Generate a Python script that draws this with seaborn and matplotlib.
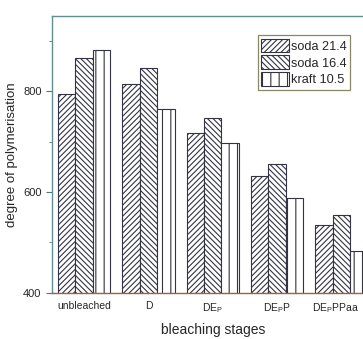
import pandas as pd
import matplotlib
matplotlib.use("Agg")
import matplotlib.pyplot as plt
import matplotlib.transforms as mtransforms
import seaborn as sns
from matplotlib.ticker import MultipleLocator

# Data
stages = ["unbleached", "D", "DE$_P$", "DE$_P$P", "DE$_P$PPaa"]
pulps = ["soda 21.4", "soda 16.4", "kraft 10.5"]
soda_214 = [795, 815, 717, 631, 535]
soda_164 = [867, 846, 747, 656, 555]
kraft_105 = [882, 766, 697, 589, 482]

hatches = ["//////", "\\\\\\\\\\\\", "||"]


def build_frame():
    rows = []
    for values, pulp in zip([soda_214, soda_164, kraft_105], pulps):
        for stage, v in zip(stages, values):
            rows.append({"stage": stage, "pulp": pulp, "dp": v})
    return pd.DataFrame(rows)


def plot_dp():
    sns.set_style("ticks")
    plt.rcParams["font.family"] = ["Liberation Sans", "DejaVu Sans"]
    plt.rcParams["mathtext.default"] = "regular"
    plt.rcParams["hatch.linewidth"] = 0.8
    plt.rcParams["hatch.color"] = "#5a4a6a"

    df = build_frame()
    fig = plt.figure(figsize=(3.63, 3.39), dpi=100)
    # axes runs past the right edge like in the reference
    ax = fig.add_axes([0.1433, 0.1366, 0.8857, 0.8162])

    sns.barplot(data=df, x="stage", y="dp", hue="pulp", order=stages,
                hue_order=pulps, width=0.81, palette=["white"] * 3,
                edgecolor="#333344", linewidth=0.8, ax=ax, legend=False)

    for cont, h in zip(ax.containers, hatches):
        for bar in cont:
            bar.set_hatch(h)

    # legend with hatched boxes
    handles = [plt.Rectangle((0, 0), 1, 1, facecolor="white", edgecolor="#333344",
                             hatch=h, linewidth=0.8) for h in hatches]
    leg = ax.legend(handles, pulps, loc="upper left", bbox_to_anchor=(0.64, 0.93),
                    fontsize=9.2, frameon=True, fancybox=False, borderpad=0.25,
                    labelspacing=0.2, handlelength=2.2, handleheight=1.3,
                    handletextpad=0.15, borderaxespad=0)
    leg.get_frame().set_edgecolor("#6b6b40")
    leg.get_frame().set_linewidth(0.9)

    ax.set_ylim(400, 950)
    ax.set_xlim(-0.5, 4.5)
    ax.yaxis.set_major_locator(MultipleLocator(200))
    ax.yaxis.set_minor_locator(MultipleLocator(100))
    ax.tick_params(axis="y", which="major", length=4, labelsize=8, color="#557777")
    ax.tick_params(axis="y", which="minor", length=2.5, color="#557777")
    ax.tick_params(axis="x", length=0, labelsize=7.5, pad=6)

    # last stage label sits at the clipped edge, nudge it left a few pixels
    last = ax.get_xticklabels()[-1]
    shift = mtransforms.ScaledTranslation(-4 / 72, 0, fig.dpi_scale_trans)
    last.set_transform(last.get_transform() + shift)

    for side in ["left", "top", "right", "bottom"]:
        ax.spines[side].set_color("#5f8f8f")
        ax.spines[side].set_linewidth(1.0)
    ax.spines["bottom"].set_color("#a0603a")

    ax.set_xlabel("bleaching stages", fontsize=10, labelpad=6)
    ax.set_ylabel("degree of polymerisation", fontsize=9.5, labelpad=4)

    fig.savefig("out.png", dpi=100)


def main():
    plot_dp()


if __name__ == "__main__":
    main()
